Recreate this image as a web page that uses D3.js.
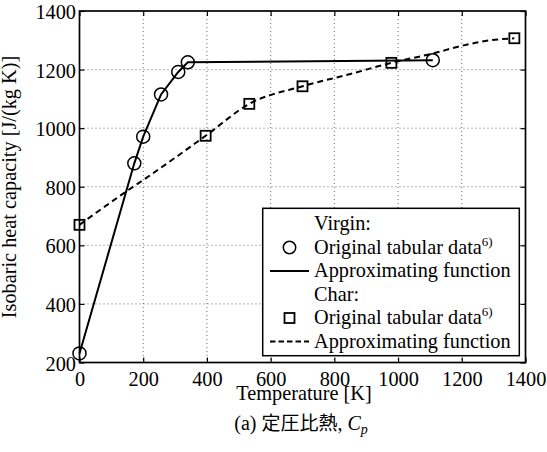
<!DOCTYPE html>
<html>
<head>
<meta charset="utf-8">
<script src="https://cdn.jsdelivr.net/npm/d3@7"></script>
<style>
  body { margin: 0; background: #fff; }
  svg text { font-family: "Liberation Serif", "Times New Roman", Times, serif; fill: #000; }
  svg text .cjk { font-family: "Noto Sans CJK JP", sans-serif; }
</style>
</head>
<body>
<div id="chart"></div>
<script>
// Virgin: original tabular data (circles), fit is drawn through them
const virginT  = [0, 172, 200, 256, 310, 340, 1109];
const virginCp = [231, 880, 971, 1115, 1192, 1225, 1232];

// Char: original tabular data (squares)
const charT  = [0, 396, 533, 700, 979, 1365];
const charCp = [670, 974, 1083, 1143, 1223, 1307];

// Char approximating function
const charFitT  = [0, 143, 200, 396, 533, 700, 850, 979, 1109, 1200, 1290, 1365];
const charFitCp = [670, 781, 823, 974, 1083, 1143, 1185, 1223, 1255, 1281, 1300, 1307];

const xTicks = [0, 200, 400, 600, 800, 1000, 1200, 1400];
const yTicks = [200, 400, 600, 800, 1000, 1200, 1400];

const legendItems = [
    { label: "Virgin:", type: "title" },
    { label: "Original tabular data", sup: "6)", type: "circle" },
    { label: "Approximating function", type: "solid" },
    { label: "Char:", type: "title" },
    { label: "Original tabular data", sup: "6)", type: "square" },
    { label: "Approximating function", type: "dashed" }
];

const width = 547, height = 452;
const margin = { top: 11, right: 21.5, bottom: 89.5, left: 79.5 };
const innerWidth = width - margin.left - margin.right;
const innerHeight = height - margin.top - margin.bottom;
const fs = "20.3px";

const svg = d3.select("#chart").append("svg")
    .attr("width", width)
    .attr("height", height);

const g = svg.append("g")
    .attr("transform", `translate(${margin.left},${margin.top})`);

const x = d3.scaleLinear().domain([0, 1400]).range([0, innerWidth]);
const y = d3.scaleLinear().domain([200, 1400]).range([innerHeight, 0]);

// Grid titik-titik
g.append("g")
    .selectAll("line")
    .data(xTicks.slice(1, -1))
    .join("line")
    .attr("x1", d => x(d)).attr("x2", d => x(d))
    .attr("y1", 0).attr("y2", innerHeight)
    .attr("stroke", "#444")
    .attr("stroke-width", 0.8)
    .attr("stroke-dasharray", "1,3");

g.append("g")
    .selectAll("line")
    .data(yTicks.slice(1, -1))
    .join("line")
    .attr("x1", 0).attr("x2", innerWidth)
    .attr("y1", d => y(d)).attr("y2", d => y(d))
    .attr("stroke", "#444")
    .attr("stroke-width", 0.8)
    .attr("stroke-dasharray", "1,3");

// Axes, tick ke dalam di keempat sisi
const tickLen = 5;
const fmt = d3.format("d");

const xAxisG = g.append("g")
    .attr("transform", `translate(0,${innerHeight})`)
    .call(d3.axisBottom(x).tickValues(xTicks).tickFormat(fmt)
        .tickSizeInner(-tickLen).tickSizeOuter(0).tickPadding(0));
xAxisG.selectAll(".tick text").attr("y", 23).attr("dy", null);

const yAxisG = g.append("g")
    .call(d3.axisLeft(y).tickValues(yTicks).tickFormat(fmt)
        .tickSizeInner(-tickLen).tickSizeOuter(0).tickPadding(0));
yAxisG.selectAll(".tick text").attr("x", -3.5).attr("y", 7.5).attr("dy", null);

const topAxisG = g.append("g")
    .call(d3.axisTop(x).tickValues(xTicks).tickFormat("")
        .tickSizeInner(-tickLen).tickSizeOuter(0));

const rightAxisG = g.append("g")
    .attr("transform", `translate(${innerWidth},0)`)
    .call(d3.axisRight(y).tickValues(yTicks).tickFormat("")
        .tickSizeInner(-tickLen).tickSizeOuter(0));

[xAxisG, yAxisG, topAxisG, rightAxisG].forEach(ax => {
    ax.attr("font-family", null).attr("font-size", fs);
    ax.select(".domain").remove();
    ax.selectAll(".tick line").attr("stroke", "#000").attr("stroke-width", 1.2);
});

// Frame
g.append("rect")
    .attr("width", innerWidth)
    .attr("height", innerHeight)
    .attr("fill", "none")
    .attr("stroke", "#000")
    .attr("stroke-width", 1.7);

// Lines
const virgin = virginT.map((t, i) => ({ t, cp: virginCp[i] }));
const charData = charT.map((t, i) => ({ t, cp: charCp[i] }));
const charFit = charFitT.map((t, i) => ({ t, cp: charFitCp[i] }));

g.append("path")
    .datum(virgin)
    .attr("fill", "none")
    .attr("stroke", "#000")
    .attr("stroke-width", 2)
    .attr("d", d3.line().x(d => x(d.t)).y(d => y(d.cp)));

g.append("path")
    .datum(charFit)
    .attr("fill", "none")
    .attr("stroke", "#000")
    .attr("stroke-width", 2)
    .attr("stroke-dasharray", "6,4")
    .attr("d", d3.line().curve(d3.curveMonotoneX).x(d => x(d.t)).y(d => y(d.cp)));

// Markers
g.append("g")
    .selectAll("circle")
    .data(virgin)
    .join("circle")
    .attr("cx", d => x(d.t))
    .attr("cy", d => y(d.cp))
    .attr("r", 6.5)
    .attr("fill", "none")
    .attr("stroke", "#000")
    .attr("stroke-width", 1.5);

const sq = 10;
g.append("g")
    .selectAll("rect")
    .data(charData)
    .join("rect")
    .attr("x", d => x(d.t) - sq / 2)
    .attr("y", d => y(d.cp) - sq / 2)
    .attr("width", sq)
    .attr("height", sq)
    .attr("fill", "none")
    .attr("stroke", "#000")
    .attr("stroke-width", 1.8);

// Axis labels
svg.append("text")
    .attr("x", 304)
    .attr("y", 399.5)
    .attr("text-anchor", "middle")
    .attr("font-size", fs)
    .text("Temperature [K]");

svg.append("text")
    .attr("transform", "translate(16,187) rotate(-90)")
    .attr("text-anchor", "middle")
    .attr("font-size", fs)
    .text("Isobaric heat capacity [J/(kg K)]");

// Legend
const legend = svg.append("g");
legend.append("rect")
    .attr("x", 262.7)
    .attr("y", 208.3)
    .attr("width", 256.6)
    .attr("height", 147.4)
    .attr("fill", "#fff")
    .attr("stroke", "#000")
    .attr("stroke-width", 1.5);

const rowH = 23.5, row0 = 230, textX = 314;
legendItems.forEach((it, i) => {
    const by = row0 + i * rowH;
    const my = by - 6;
    const t = legend.append("text")
        .attr("x", textX)
        .attr("y", by)
        .attr("font-size", fs)
        .text(it.label);
    if (it.sup) {
        t.append("tspan")
            .attr("font-size", "13px")
            .attr("dy", -8)
            .text(it.sup);
    }
    if (it.type === "circle") {
        legend.append("circle")
            .attr("cx", 289.5).attr("cy", my).attr("r", 6.2)
            .attr("fill", "none").attr("stroke", "#000").attr("stroke-width", 1.5);
    } else if (it.type === "square") {
        legend.append("rect")
            .attr("x", 289.5 - 5).attr("y", my - 5).attr("width", 10).attr("height", 10)
            .attr("fill", "none").attr("stroke", "#000").attr("stroke-width", 1.8);
    } else if (it.type === "solid" || it.type === "dashed") {
        legend.append("line")
            .attr("x1", 270).attr("x2", 309).attr("y1", my).attr("y2", my)
            .attr("stroke", "#000").attr("stroke-width", 2)
            .attr("stroke-dasharray", it.type === "dashed" ? "5.5,3" : null);
    }
});

// Caption
const cap = svg.append("text")
    .attr("x", 301)
    .attr("y", 430)
    .attr("text-anchor", "middle")
    .attr("font-size", "20px");
cap.append("tspan").text("(a) ");
cap.append("tspan").attr("class", "cjk").attr("font-size", "19px").text("定圧比熱");
cap.append("tspan").text(", ");
cap.append("tspan").attr("font-style", "italic").text("C");
cap.append("tspan").attr("font-style", "italic").attr("font-size", "14px").attr("dy", 4).text("p");
</script>
</body>
</html>
